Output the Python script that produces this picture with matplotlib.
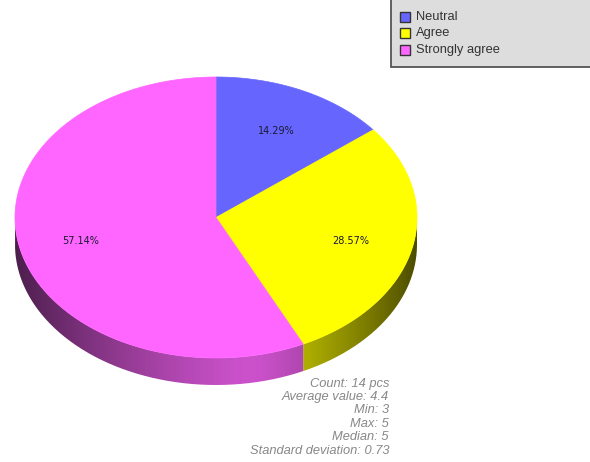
import numpy as np
import matplotlib
matplotlib.use("Agg")
import matplotlib.pyplot as plt
from matplotlib.patches import Polygon, Rectangle
from matplotlib.path import Path
from matplotlib.patches import PathPatch

# answer categories, their scores and how many people picked each
labels = ["Neutral", "Agree", "Strongly agree"]
scores = [3, 4, 5]
counts = [2, 4, 8]
colors = ["#6666ff", "#ffff00", "#ff66ff"]

W, H = 590, 462
fig = plt.figure(figsize=(W / 100, H / 100), dpi=100)
ax = fig.add_axes([0, 0, 1, 1])
ax.set_xlim(0, W)
ax.set_ylim(H, 0)
ax.axis("off")

# ellipse geometry in pixels
cx, cy = 216, 217.5
rx, ry = 201, 140.5
depth = 27

total = sum(counts)
shares = np.array(counts) / total
# slices start at 12 o'clock and run clockwise
ends = 90 - 360 * np.cumsum(shares)
starts = np.concatenate([[90], ends[:-1]])


def arc(a1, a2, dy=0, n=200):
    t = np.radians(np.linspace(a1, a2, n))
    return np.column_stack([cx + rx * np.cos(t), cy - ry * np.sin(t) + dy])


def shade(x):
    # brightness of the rim, brightest a bit right of centre
    peak = 250
    u = np.where(x < peak, (peak - x) / (peak - (cx - rx)), (x - peak) / ((cx + rx) - peak))
    u = np.clip(u, 0, 1)
    return 0.3 + 0.5 * (1 - u ** 1.3)


# rim of the pie: only the front half (angles -180..0) shows
xs = np.arange(cx - rx - 1, cx + rx + 2)
b = shade(xs)
for a1, a2, c in zip(starts, ends, colors):
    lo, hi = max(min(a1, a2), -180), min(max(a1, a2), 0)
    # pink slice wraps past -180, so clamp its range too
    if a2 < -180:
        lo, hi = -180, min(a1, 0)
    if hi <= lo:
        continue
    top = arc(hi, lo)
    bot = arc(lo, hi, dy=depth)
    poly = np.vstack([top, bot])
    rgb = np.array(matplotlib.colors.to_rgb(c))
    img = (b[:, None] * rgb[None, :])[None, :, :]
    im = ax.imshow(img, extent=(xs[0], xs[-1], cy + ry + depth + 2, cy - 2),
                   aspect="auto", interpolation="bilinear", zorder=1)
    clip = PathPatch(Path(poly), transform=ax.transData, facecolor="none", edgecolor="none")
    ax.add_patch(clip)
    im.set_clip_path(clip)

# top face of the slices
for a1, a2, c in zip(starts, ends, colors):
    pts = np.vstack([[cx, cy], arc(a1, a2), [cx, cy]])
    ax.add_patch(Polygon(pts, closed=True, facecolor=c, edgecolor=c, lw=0.5, zorder=2))

# percentage labels
for a1, a2, s in zip(starts, ends, shares):
    m = np.radians((a1 + a2) / 2)
    lx = cx + 0.69 * rx * np.cos(m)
    ly = cy - 0.70 * ry * np.sin(m) + 2
    ax.text(lx, ly, f"{s * 100:.2f}%", fontsize=7.0, color="#1a1a33",
            ha="center", va="center", zorder=3, family="DejaVu Sans")

# legend box in the top right corner
ax.add_patch(Rectangle((391, -5), 210, 72, facecolor="#dddddd", edgecolor="#555555",
                       lw=1.3, zorder=4))
for i, (lab, c) in enumerate(zip(labels, colors)):
    y = 16.5 + i * 16.5
    ax.add_patch(Rectangle((400, y - 5), 10, 10, facecolor=c, edgecolor="#333333",
                           lw=1, zorder=5))
    ax.text(416, y, lab, fontsize=9.3, color="#333333", va="center", ha="left",
            family="Liberation Sans", zorder=5)

# summary statistics under the pie
vals = np.repeat(scores, counts)
stats = [
    f"Count: {total} pcs",
    f"Average value: {vals.mean():.1f}",
    f"Min: {vals.min()}",
    f"Max: {vals.max()}",
    f"Median: {np.median(vals):g}",
    f"Standard deviation: {vals.std():.2f}",
]
for i, line in enumerate(stats):
    ax.text(389, 383.5 + i * 13.4, line, fontsize=9.3, color="#888888", style="italic",
            ha="right", va="center", family="Liberation Sans")

fig.savefig("out.png", dpi=100)
